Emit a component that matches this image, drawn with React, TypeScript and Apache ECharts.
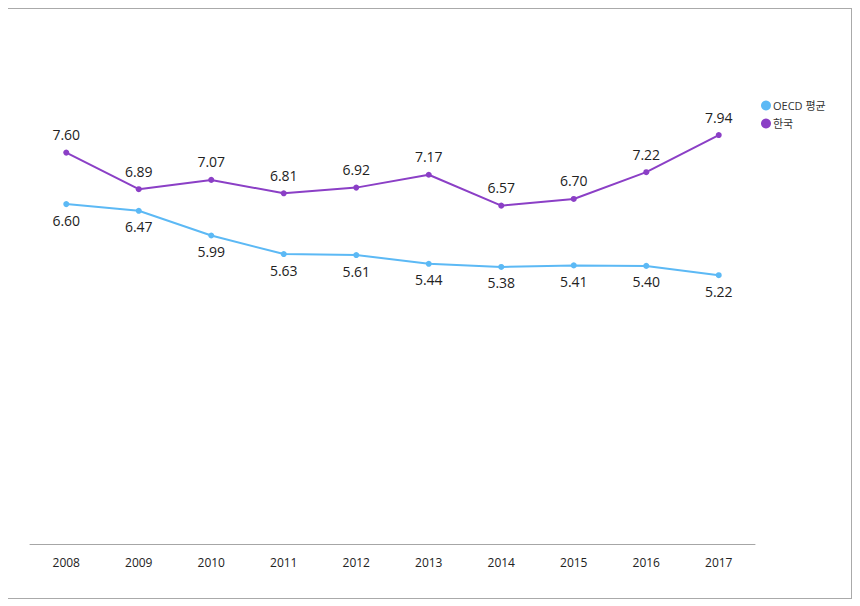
import React, { useEffect, useRef } from "react";
import * as echarts from "echarts";

const years = ["2008", "2009", "2010", "2011", "2012", "2013", "2014", "2015", "2016", "2017"];
const oecd = [6.6, 6.47, 5.99, 5.63, 5.61, 5.44, 5.38, 5.41, 5.4, 5.22];
const korea = [7.6, 6.89, 7.07, 6.81, 6.92, 7.17, 6.57, 6.7, 7.22, 7.94];
const seriesNames = ["OECD 평균", "한국"];

export default function App() {
  const ref = useRef<HTMLDivElement>(null);
  useEffect(() => {
    const chart = echarts.init(ref.current!, null, { renderer: "svg" });
    const font = "'Open Sans', 'Noto Sans CJK KR', sans-serif";
    chart.setOption({
      animation: false,
      textStyle: { fontFamily: font },
      grid: { left: 22, right: 96, top: 20, bottom: 54, containLabel: false },
      legend: {
        orient: "vertical",
        left: 748,
        top: 86,
        itemWidth: 10,
        itemHeight: 10,
        itemGap: 7,
        icon: "circle",
        textStyle: { fontSize: 11, color: "#333", fontFamily: font, padding: [0, 0, 0, -3] },
        data: seriesNames,
      },
      xAxis: {
        type: "category",
        data: years,
        boundaryGap: true,
        axisLine: { lineStyle: { color: "#a6a6a6", width: 1 } },
        axisTick: { alignWithLabel: true, length: 4, lineStyle: { color: "#a6a6a6" } },
        axisLabel: { color: "#222", fontSize: 12, margin: 12 },
      },
      yAxis: {
        type: "value",
        min: 0,
        max: 10,
        show: false,
        splitLine: { show: false },
      },
      series: [
        {
          name: seriesNames[0],
          type: "line",
          data: oecd,
          color: "#5cb9f5",
          symbol: "circle",
          symbolSize: 6,
          lineStyle: { width: 2 },
          label: {
            show: true,
            position: "bottom",
            distance: 6,
            fontSize: 14,
            color: "#222",
            formatter: (p: any) => p.value.toFixed(2),
          },
        },
        {
          name: seriesNames[1],
          type: "line",
          data: korea,
          color: "#8b3fc6",
          symbol: "circle",
          symbolSize: 6,
          lineStyle: { width: 2 },
          label: {
            show: true,
            position: "top",
            distance: 8,
            fontSize: 14,
            color: "#222",
            formatter: (p: any) => p.value.toFixed(2),
          },
        },
      ],
    });
    return () => chart.dispose();
  }, []);
  return (
    <div
      ref={ref}
      style={{
        width: 845,
        height: 591,
        border: "1px solid #aaa",
        boxSizing: "border-box",
        marginLeft: -1,
        background: "#fff",
      }}
    />
  );
}
